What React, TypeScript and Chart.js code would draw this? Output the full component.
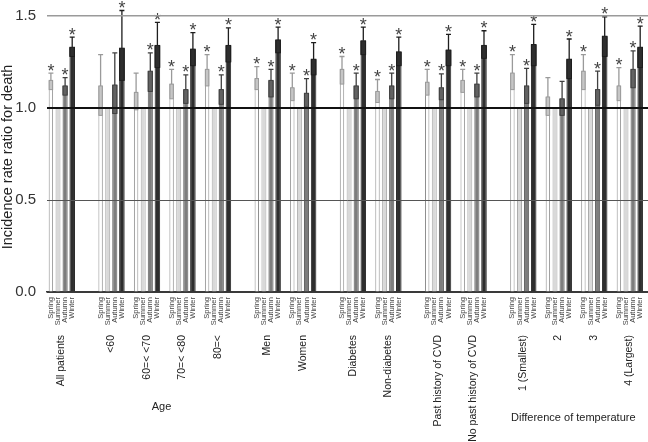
import React, { useEffect, useRef } from "react";
import { Chart, registerables } from "chart.js";

Chart.register(...registerables);

// ---------- data ----------
const groups = [
  "All patients",
  "<60",
  "60=< <70",
  "70=< <80",
  "80=<",
  "Men",
  "Women",
  "Diabetes",
  "Non-diabetes",
  "Past history of CVD",
  "No past history of CVD",
  "1 (Smallest)",
  "2",
  "3",
  "4 (Largest)",
];
const sectionOfGroup = [0, 1, 1, 1, 1, 2, 2, 3, 3, 4, 4, 5, 5, 5, 5];
const sectionTitles = ["", "Age", "", "", "", "Difference of temperature"];
const seasons = ["Spring", "Summer", "Autumn", "Winter"];

const spring = [1.15, 1.12, 1.085, 1.13, 1.21, 1.16, 1.11, 1.21, 1.09, 1.14, 1.15, 1.19, 1.06, 1.2, 1.12];
const springLo = [1.1, 0.96, 0.99, 1.05, 1.12, 1.1, 1.04, 1.13, 1.03, 1.07, 1.085, 1.1, 0.96, 1.1, 1.04];
const springHi = [1.19, 1.29, 1.19, 1.21, 1.29, 1.225, 1.19, 1.28, 1.155, 1.21, 1.21, 1.29, 1.165, 1.29, 1.22];
const springSig = [1, 0, 0, 1, 1, 1, 1, 1, 1, 1, 1, 1, 0, 1, 1];

// Summer is the reference season (IRR = 1.0)
const summer = [1, 1, 1, 1, 1, 1, 1, 1, 1, 1, 1, 1, 1, 1, 1];

const autumn = [1.12, 1.125, 1.2, 1.1, 1.1, 1.15, 1.08, 1.12, 1.12, 1.11, 1.13, 1.12, 1.05, 1.1, 1.21];
const autumnLo = [1.07, 0.97, 1.09, 1.025, 1.02, 1.06, 1.005, 1.05, 1.05, 1.045, 1.06, 1.025, 0.96, 1.015, 1.11];
const autumnHi = [1.165, 1.3, 1.3, 1.18, 1.18, 1.21, 1.16, 1.19, 1.19, 1.185, 1.19, 1.215, 1.145, 1.2, 1.31];
const autumnSig = [1, 0, 1, 1, 1, 1, 1, 1, 1, 1, 1, 1, 0, 1, 1];

const winter = [1.33, 1.325, 1.34, 1.32, 1.34, 1.37, 1.265, 1.365, 1.305, 1.315, 1.34, 1.345, 1.265, 1.39, 1.33];
const winterLo = [1.28, 1.15, 1.22, 1.23, 1.25, 1.3, 1.18, 1.29, 1.23, 1.23, 1.27, 1.23, 1.16, 1.28, 1.22];
const winterHi = [1.385, 1.53, 1.465, 1.41, 1.435, 1.44, 1.355, 1.44, 1.385, 1.4, 1.42, 1.455, 1.375, 1.495, 1.445];
const winterSig = [1, 1, 1, 1, 1, 1, 1, 1, 1, 1, 1, 1, 1, 1, 1];

const yTicks = [0, 0.5, 1.0, 1.5];
const yTitle = "Incidence rate ratio for death";

// ---------- derived ----------
const seasonData = [spring, summer, autumn, winter];
const seasonLo: (number[] | null)[] = [springLo, null, autumnLo, winterLo];
const seasonHi: (number[] | null)[] = [springHi, null, autumnHi, winterHi];
const seasonSig: (number[] | null)[] = [springSig, null, autumnSig, winterSig];

const SECTION_GAP = 0.4;
const CAT_PCT = 0.8;
const positions = groups.map((_, i) => i + sectionOfGroup[i] * SECTION_GAP);
const seasonTickValues = positions.flatMap((p) =>
  seasons.map((_, k) => p + (k - 1.5) * (CAT_PCT / seasons.length))
);
const X_MIN = -0.41;
const X_MAX = positions[positions.length - 1] + 0.52;

const FONT = "'Liberation Sans', Arial, Helvetica, sans-serif";

const fills = ["#ffffff", "#d9d9d9", "#7d7d7d", "#2e2e2e"];
const borders = ["#8f8f8f", "#ababab", "#5c5c5c", "#262626"];
const boxFills = ["#c6c6c6", "", "#626262", "#2e2e2e"];
const whiskers = ["#9a9a9a", "", "#404040", "#1e1e1e"];
const barPcts = [0.62, 0.7, 0.72, 0.78];

const errorBarPlugin = {
  id: "errorBars",
  afterDatasetsDraw(chart: any) {
    const ctx = chart.ctx;
    const y = chart.scales.y;
    seasons.forEach((_, k) => {
      const lo = seasonLo[k];
      const hi = seasonHi[k];
      const sig = seasonSig[k];
      if (!lo || !hi || !sig) return;
      const meta = chart.getDatasetMeta(k);
      meta.data.forEach((bar: any, i: number) => {
        const x = bar.x;
        const w = bar.width;
        const yv = y.getPixelForValue(seasonData[k][i]);
        const yl = y.getPixelForValue(lo[i]);
        const yh = y.getPixelForValue(hi[i]);
        ctx.save();
        ctx.fillStyle = boxFills[k];
        ctx.fillRect(x - w / 2, yv, w, yl - yv);
        ctx.strokeStyle = whiskers[k];
        ctx.lineWidth = 1;
        ctx.strokeRect(x - w / 2 + 0.5, yv, w - 1, yl - yv);
        ctx.lineWidth = 1.3;
        ctx.beginPath();
        ctx.moveTo(x, yv);
        ctx.lineTo(x, yh);
        ctx.moveTo(x - 2.5, yh);
        ctx.lineTo(x + 2.5, yh);
        ctx.stroke();
        if (sig[i]) {
          ctx.fillStyle = "#444";
          ctx.font = `18px ${FONT}`;
          ctx.textAlign = "center";
          ctx.textBaseline = "alphabetic";
          ctx.fillText("*", x, yh + 3.5);
        }
        ctx.restore();
      });
    });
  },
};

const textPlugin = {
  id: "extraText",
  afterDraw(chart: any) {
    const ctx = chart.ctx;
    const xg = chart.scales.xg;
    const area = chart.chartArea;
    ctx.save();
    ctx.fillStyle = "#222";
    ctx.font = `14.5px ${FONT}`;
    ctx.textAlign = "center";
    ctx.textBaseline = "middle";
    ctx.translate(8, (area.top + area.bottom) / 2 + 11);
    ctx.rotate(-Math.PI / 2);
    ctx.fillText(yTitle, 0, 0);
    ctx.restore();

    ctx.save();
    sectionTitles.forEach((t, s) => {
      if (!t) return;
      const idx = groups.map((_, i) => i).filter((i) => sectionOfGroup[i] === s);
      const mean = idx.reduce((a, i) => a + positions[i], 0) / idx.length;
      ctx.font = `10.5px ${FONT}`;
      const longest = Math.max(...idx.map((i) => ctx.measureText(groups[i]).width));
      ctx.font = `11px ${FONT}`;
      ctx.fillStyle = "#222";
      ctx.textAlign = "center";
      ctx.textBaseline = "middle";
      ctx.fillText(t, xg.getPixelForValue(mean) - 3, xg.top + 5 + longest + 27);
    });
    ctx.restore();
  },
};

export default function App() {
  const canvasRef = useRef<HTMLCanvasElement | null>(null);

  useEffect(() => {
    if (!canvasRef.current) return;
    const chart = new Chart(canvasRef.current, {
      type: "bar",
      data: {
        datasets: seasons.map((s, k) => ({
          label: s,
          data: positions.map((p, i) => ({ x: p, y: seasonData[k][i] })),
          backgroundColor: fills[k],
          borderColor: borders[k],
          borderWidth: 1,
          categoryPercentage: CAT_PCT,
          barPercentage: barPcts[k],
          xAxisID: "xg",
          yAxisID: "y",
        })),
      },
      options: {
        animation: false,
        responsive: false,
        maintainAspectRatio: false,
        layout: { padding: 0 },
        plugins: {
          legend: { display: false },
          tooltip: { enabled: false },
          title: { display: false },
        },
        scales: {
          xs: {
            type: "linear",
            position: "bottom",
            weight: 0,
            offset: false,
            min: X_MIN,
            max: X_MAX,
            grid: { display: false, drawTicks: false, offset: false },
            border: { display: true, color: "#3a3a3a", width: 1.5 },
            afterBuildTicks: (s: any) => {
              s.ticks = seasonTickValues.map((v) => ({ value: v }));
            },
            afterFit: (s: any) => {
              s.height = 38;
              s.paddingLeft = 0;
              s.paddingRight = 0;
            },
            ticks: {
              autoSkip: false,
              maxRotation: 90,
              minRotation: 90,
              padding: 5,
              color: "#444",
              font: { size: 7.5, family: FONT },
              callback: (_v: any, idx: number) => seasons[idx % seasons.length],
            },
          },
          xg: {
            type: "linear",
            position: "bottom",
            weight: 1,
            offset: false,
            min: X_MIN,
            max: X_MAX,
            grid: { display: false, drawTicks: false, offset: false },
            border: { display: false },
            afterBuildTicks: (s: any) => {
              s.ticks = positions.map((v) => ({ value: v }));
            },
            afterFit: (s: any) => {
              s.height = 112;
              s.paddingLeft = 0;
              s.paddingRight = 0;
            },
            ticks: {
              autoSkip: false,
              maxRotation: 90,
              minRotation: 90,
              padding: 5,
              color: "#222",
              font: { size: 10.5, family: FONT },
              callback: (_v: any, idx: number) => groups[idx],
            },
          },
          y: {
            type: "linear",
            position: "left",
            min: 0,
            max: 1.587,
            border: { display: false },
            grid: {
              z: 1,
              drawTicks: false,
              color: (c: any) => {
                const v = c.tick ? c.tick.value : 0;
                if (v === 1) return "#111";
                if (v === 1.5) return "#9a9a9a";
                if (v === 0.5) return "#555";
                return "#3a3a3a";
              },
              lineWidth: (c: any) => {
                const v = c.tick ? c.tick.value : 0;
                if (v === 1) return 2;
                if (v === 1.5) return 1.5;
                return 1;
              },
            },
            afterBuildTicks: (s: any) => {
              s.ticks = yTicks.map((v) => ({ value: v }));
            },
            afterFit: (s: any) => {
              s.width = 47;
              s.paddingTop = 0;
              s.paddingBottom = 0;
            },
            ticks: {
              padding: 11,
              color: "#333",
              font: { size: 15, family: FONT },
              callback: (v: any) => Number(v).toFixed(1),
            },
          },
        },
      } as any,
      plugins: [errorBarPlugin, textPlugin],
    });
    return () => chart.destroy();
  }, []);

  return (
    <div style={{ position: "fixed", left: 0, top: 0, width: 648, height: 442, background: "#fff" }}>
      <canvas ref={canvasRef} width={648} height={442} style={{ display: "block" }} />
    </div>
  );
}
